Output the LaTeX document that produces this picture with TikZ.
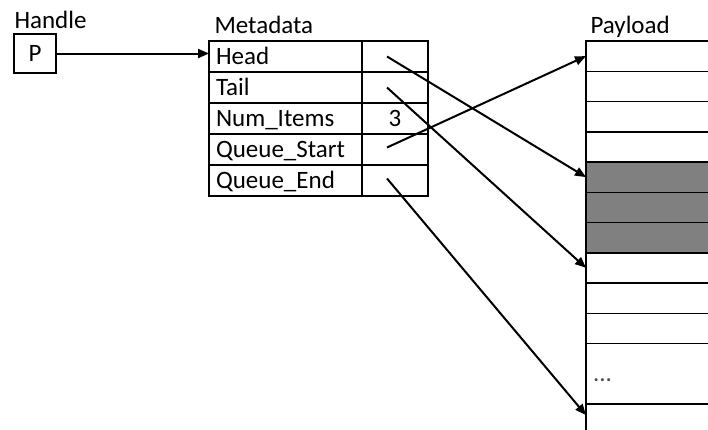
\documentclass[tikz,border=0pt]{standalone}
\usepackage{fontspec}
\setmainfont{Carlito}
\usepackage{tikz}
\usetikzlibrary{positioning}
\usetikzlibrary{arrows.meta}

\tikzset{
  cell/.style={draw, line width=1.5pt, outer sep=0pt, inner xsep=7pt, inner ysep=2pt,
               text height=19pt, text depth=3pt, align=left},
  keycell/.style={cell, text width=139pt, minimum height=31pt},
  valcell/.style={cell, minimum width=66pt, minimum height=31pt, align=center},
  slot/.style={cell, text width=130pt, minimum height=30.25pt},
  usedslot/.style={slot, fill=black!50},
  ptr/.style={line width=2pt, -{Triangle[length=11pt,width=9pt]}},
}

\begin{document}
\begin{tikzpicture}[x=1pt, y=-1pt, node distance=0pt, font=\fontsize{25}{30}\selectfont]
   \useasboundingbox (0,0) rectangle (708,429);
   \clip (0,0) rectangle (708,429);

   \node (handle) [anchor=base west] at (11,28) {Handle};
   \node (pbox) [draw, line width=1.5pt, minimum width=42pt, minimum height=39pt, inner sep=0pt] at (35,53.5) {P};

   \node (metadata) [anchor=base west] at (211,33) {Metadata};
   \node (headkey)   [keycell, anchor=north west] at (209,41) {Head};
   \node (tailkey)   [keycell, below=of headkey]  {Tail};
   \node (numkey)    [keycell, below=of tailkey]  {Num\_Items};
   \node (qstartkey) [keycell, below=of numkey]   {Queue\_Start};
   \node (qendkey)   [keycell, below=of qstartkey] {Queue\_End};
   \node (headval)   [valcell, right=of headkey]   {};
   \node (tailval)   [valcell, right=of tailkey]   {};
   \node (numval)    [valcell, right=of numkey]    {3};
   \node (qstartval) [valcell, right=of qstartkey] {};
   \node (qendval)   [valcell, right=of qendkey]   {};

   \node (payload) [anchor=base west] at (587,33) {Payload};
   \node (p1)  [slot, anchor=north west] at (586,41) {};
   \node (p2)  [slot, below=of p1] {};
   \node (p3)  [slot, below=of p2] {};
   \node (p4)  [slot, below=of p3] {};
   \node (p5)  [usedslot, below=of p4] {};
   \node (p6)  [usedslot, below=of p5] {};
   \node (p7)  [usedslot, below=of p6] {};
   \node (p8)  [slot, below=of p7] {};
   \node (p9)  [slot, below=of p8] {};
   \node (p10) [slot, below=of p9] {};
   \node (p11) [slot, below=of p10, minimum height=60.5pt] {\textcolor{black!70}{...}};
   \node (p12) [slot, below=of p11] {};

   \draw [ptr] (pbox.east) -- (pbox.east -| headkey.west);
   \draw [ptr] ([xshift=25pt]headval.west) -- (p5.west);
   \draw [ptr] ([xshift=25pt]tailval.west) -- (p8.west);
   \draw [ptr] ([xshift=25pt, yshift=2pt]qstartval.west) -- (p1.west);
   \draw [ptr] ([xshift=25pt, yshift=2pt]qendval.west) -- ([yshift=4pt]p12.west);
\end{tikzpicture}
\end{document}
